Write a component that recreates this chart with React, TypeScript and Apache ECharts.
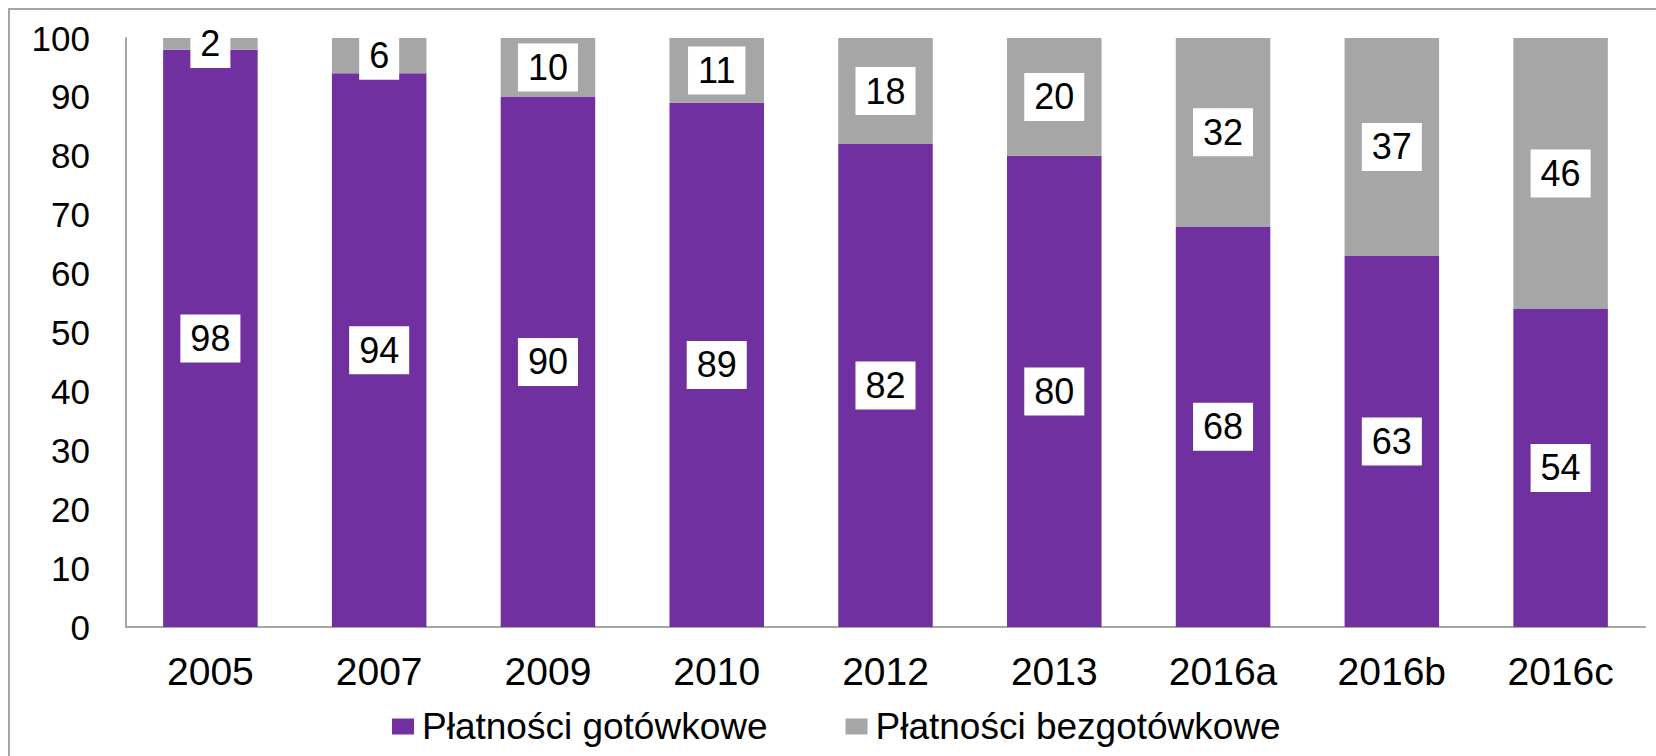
import React, { useEffect, useRef } from "react";
import * as echarts from "echarts";

const categories = ["2005", "2007", "2009", "2010", "2012", "2013", "2016a", "2016b", "2016c"];
const cashPayments = [98, 94, 90, 89, 82, 80, 68, 63, 54];
const cashlessPayments = [2, 6, 10, 11, 18, 20, 32, 37, 46];
const seriesNames = ["Płatności gotówkowe", "Płatności bezgotówkowe"];
const yTicks = { min: 0, max: 100, interval: 10 };

const FONT = "'Liberation Sans', Arial, Helvetica, sans-serif";
const PURPLE = "#7030A0";
const GRAY = "#A6A6A6";

export default function App() {
  const ref = useRef<HTMLDivElement>(null);
  useEffect(() => {
    document.body.style.margin = "0";
    if (!ref.current) return;
    const chart = echarts.init(ref.current, null, { renderer: "svg" });
    const label = {
      show: true,
      position: "inside",
      color: "#000",
      backgroundColor: "#fff",
      fontFamily: FONT,
      fontSize: 36,
      lineHeight: 36,
      padding: [6, 10],
    };
    chart.setOption({
      animation: false,
      backgroundColor: "#fff",
      textStyle: { fontFamily: FONT },
      graphic: [
        {
          type: "rect",
          shape: { x: 9, y: 9, width: 1700, height: 800 },
          style: { fill: "none", stroke: "#A6A6A6", lineWidth: 2 },
          silent: true,
        },
      ],
      grid: { left: 126, right: 11, top: 38, bottom: 129, containLabel: false },
      legend: {
        left: 392,
        top: 708,
        padding: 0,
        itemWidth: 22,
        itemHeight: 16,
        itemGap: 78,
        textStyle: { fontFamily: FONT, fontSize: 37, color: "#000", padding: [0, 0, 0, 3] },
        icon: "rect",
        data: seriesNames,
      },
      xAxis: {
        type: "category",
        data: categories,
        axisLine: { show: true, lineStyle: { color: "#A6A6A6", width: 2 } },
        axisTick: { show: false },
        axisLabel: { color: "#000", fontFamily: FONT, fontSize: 39, margin: 25 },
        splitLine: { show: false },
      },
      yAxis: {
        type: "value",
        min: yTicks.min,
        max: yTicks.max,
        interval: yTicks.interval,
        axisLine: { show: true, lineStyle: { color: "#A6A6A6", width: 2 } },
        axisTick: { show: false },
        axisLabel: { color: "#000", fontFamily: FONT, fontSize: 35, margin: 36 },
        splitLine: { show: false },
      },
      series: [
        {
          name: seriesNames[0],
          type: "bar",
          stack: "total",
          data: cashPayments,
          barWidth: "56%",
          itemStyle: { color: PURPLE },
          label,
        },
        {
          name: seriesNames[1],
          type: "bar",
          stack: "total",
          data: cashlessPayments,
          barWidth: "56%",
          itemStyle: { color: GRAY },
          label,
        },
      ],
    });
    return () => chart.dispose();
  }, []);
  return <div ref={ref} style={{ width: 1656, height: 756 }} />;
}
